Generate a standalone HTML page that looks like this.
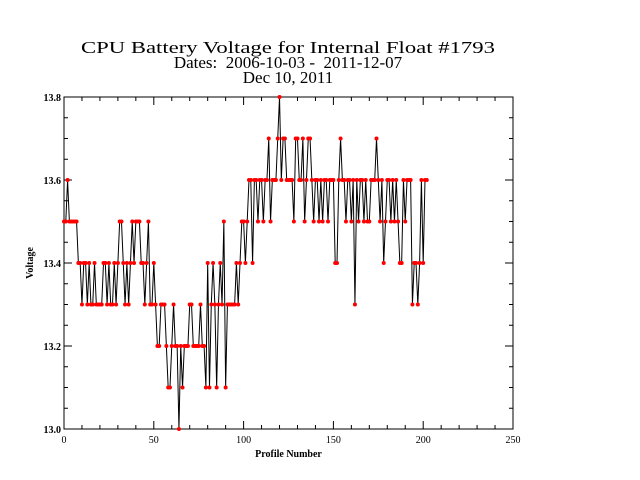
<!DOCTYPE html>
<html><head><meta charset="utf-8"><style>body{margin:0;background:#fff}svg{display:block}</style></head>
<body>
<svg id="c" width="640" height="480" xmlns="http://www.w3.org/2000/svg">
<rect width="640" height="480" fill="#fff"/>
<g font-family="Liberation Serif, serif" font-size="17" text-anchor="middle" fill="#000">
<text x="288" y="53" textLength="414" lengthAdjust="spacingAndGlyphs">CPU Battery Voltage for Internal Float #1793</text>
<text x="288" y="68" xml:space="preserve">Dates:  2006-10-03 -  2011-12-07</text>
<text x="288" y="83">Dec 10, 2011</text>
</g>
<g id="axes"></g>
<g id="series"></g>
</svg>
<script>
const values=[13.5,13.5,13.6,13.5,13.5,13.5,13.5,13.5,
13.4,13.4,13.3,13.4,13.4,13.3,13.4,13.3,13.3,13.4,13.3,13.3,13.3,13.3,13.4,13.4,13.3,13.4,13.3,13.3,13.4,13.3,13.4,
13.5,13.5,13.4,13.3,13.4,13.3,13.4,13.5,13.4,13.5,13.5,13.5,13.4,13.4,13.3,13.4,13.5,13.3,13.3,13.4,13.3,
13.2,13.2,13.3,13.3,13.3,13.2,13.1,13.1,13.2,13.3,13.2,13.2,13.0,
13.2,13.1,13.2,13.2,13.2,13.3,13.3,13.2,13.2,13.2,13.2,13.3,13.2,13.2,13.1,13.4,13.1,
13.3,13.4,13.3,13.1,13.3,13.4,13.3,13.5,13.1,13.3,13.3,13.3,13.3,13.3,13.4,13.3,13.4,
13.5,13.5,13.4,13.5,13.6,13.6,13.4,13.6,13.6,13.5,13.6,13.6,13.5,13.6,13.6,13.7,13.5,13.6,13.6,13.6,13.7,
13.8,13.6,13.7,13.7,13.6,13.6,13.6,13.6,13.5,13.7,13.7,13.6,13.6,13.7,13.5,13.6,13.7,13.7,13.6,13.5,13.6,
13.6,13.5,13.6,13.5,13.6,13.6,13.5,13.6,13.6,13.6,13.4,13.4,13.6,13.7,
13.6,13.6,13.5,13.6,13.6,13.5,13.6,13.3,13.6,13.5,13.6,13.6,13.5,13.6,13.5,13.5,13.6,13.6,13.6,13.7,
13.6,13.5,13.6,13.4,13.5,13.6,13.6,13.5,13.6,13.5,13.6,13.5,13.4,13.4,13.6,13.5,
13.6,13.6,13.6,13.3,13.4,13.4,13.3,13.4,13.6,13.4,13.6,13.6];
const xTicks=[0,50,100,150,200,250];
const yTicks=[13.0,13.2,13.4,13.6,13.8];
const X0=64,X1=513,Y0=429,Y1=97;
const xs=v=>X0+(v-0)/250*(X1-X0);
const ys=v=>Y0-(v-13.0)/0.8*(Y0-Y1);
const NS='http://www.w3.org/2000/svg';
function mk(t,a,p){const e=document.createElementNS(NS,t);for(const k in a)e.setAttribute(k,a[k]);p.appendChild(e);return e;}
const ax=document.getElementById('axes');
const frame=mk('rect',{x:X0,y:Y1,width:X1-X0,height:Y0-Y1,fill:'none',stroke:'#000','stroke-width':1},ax);


let d='';
for(let v=0;v<=250;v+=10){const x=xs(v),L=(v%50===0)?8:4;d+=`M${x},${Y0}v${-L}M${x},${Y1}v${L}`;}
for(let i=0;i<=16;i++){const v=13+i*0.05,y=ys(v),L=(i%4===0)?8:4;d+=`M${X0},${y}h${L}M${X1},${y}h${-L}`;}
const tk=mk('path',{d:d,stroke:'#000','stroke-width':1,fill:'none'},ax);


xTicks.forEach(v=>{const t=mk('text',{x:xs(v),y:Y0+14,'font-family':'Liberation Serif, serif','font-size':10,'text-anchor':'middle'},ax);t.textContent=v;

});
yTicks.forEach(v=>{const t=mk('text',{x:X0-3,y:ys(v)+4,'font-family':'Liberation Serif, serif','font-size':10,'font-weight':'bold','text-anchor':'end'},ax);t.textContent=v.toFixed(1);

});
const xt=mk('text',{x:(X0+X1)/2,y:457,'font-family':'Liberation Serif, serif','font-size':10,'font-weight':'bold','text-anchor':'middle'},ax);xt.textContent='Profile Number';


const yt=mk('text',{x:0,y:0,transform:`translate(33,${(Y0+Y1)/2}) rotate(-90)`,'font-family':'Liberation Serif, serif','font-size':10,'font-weight':'bold','text-anchor':'middle'},ax);yt.textContent='Voltage';


const sg=document.getElementById('series');
const line=mk('polyline',{points:values.map((v,i)=>xs(i)+','+ys(v)).join(' '),fill:'none',stroke:'#000','stroke-width':1},sg);


values.forEach((v,i)=>{const c=mk('circle',{cx:xs(i),cy:ys(v),r:2,fill:'#f00'},sg);

});
</script>
</body></html>
